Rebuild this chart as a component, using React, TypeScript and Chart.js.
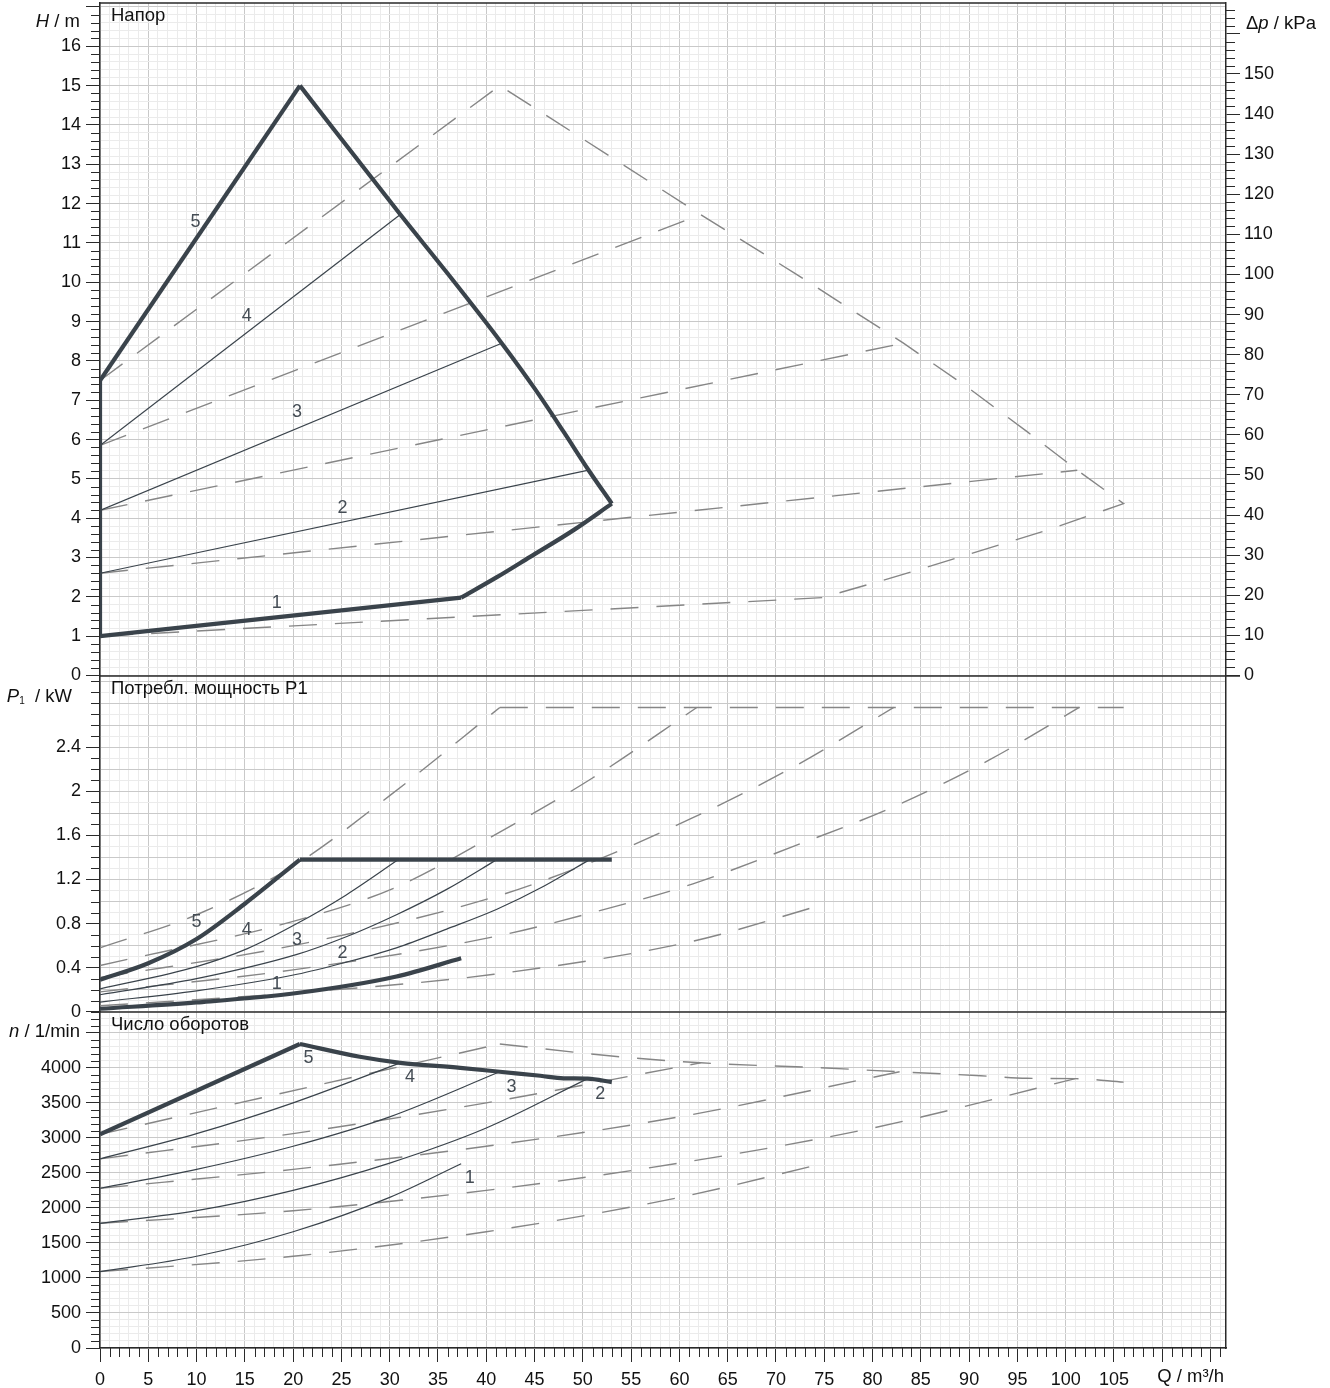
import React, { useEffect, useRef } from 'react';
import { Chart, registerables } from 'chart.js';

Chart.register(...registerables);

// ---------- axis ranges ----------
const Q_MAX = 116.6;
const H_MAX = 17.1;
const P_MAX = 3.05;
const N_MAX = 4800;
const KPA_PER_M = 9.80665;

// ---------- tick label sets ----------
const Q_LABELS = [0, 5, 10, 15, 20, 25, 30, 35, 40, 45, 50, 55, 60, 65, 70, 75, 80, 85, 90, 95, 100, 105];
const H_LABELS = [0, 1, 2, 3, 4, 5, 6, 7, 8, 9, 10, 11, 12, 13, 14, 15, 16];
const P_LABELS = [0, 0.4, 0.8, 1.2, 1.6, 2, 2.4];
const N_LABELS = [0, 500, 1000, 1500, 2000, 2500, 3000, 3500, 4000];
const DP_LABELS = [0, 10, 20, 30, 40, 50, 60, 70, 80, 90, 100, 110, 120, 130, 140, 150];

// ---------- head, single pump ----------
const H_C5_Q = [0, 20.7];
const H_C5_H = [7.5, 15.0];
const H_MAXLIM_Q = [20.7, 31.1, 36, 41.6, 45, 48, 50.6, 53.0];
const H_MAXLIM_H = [15.0, 11.72, 10.22, 8.45, 7.3, 6.2, 5.22, 4.37];
const H_MINLIM_Q = [37.4, 41.1, 44.5, 49.0, 53.0];
const H_MINLIM_H = [1.98, 2.5, 3.01, 3.69, 4.37];
const H_C1_Q = [0, 37.4];
const H_C1_H = [1.0, 1.98];
const H_AXIS_Q = [0, 0];
const H_AXIS_H = [1.0, 7.5];
const H_C4_Q = [0, 31.1];
const H_C4_H = [5.85, 11.72];
const H_C3_Q = [0, 41.6];
const H_C3_H = [4.2, 8.45];
const H_C2_Q = [0, 50.6];
const H_C2_H = [2.6, 5.22];

// ---------- head, twin operation (dashed) ----------
const HT_OUTER_Q = [0, 41.4, 62.2, 72, 83.2, 90, 96, 101.2, 106, 98, 89, 82.2, 74.8, 0];
const HT_OUTER_H = [7.5, 15.0, 11.72, 10.22, 8.45, 7.3, 6.2, 5.22, 4.37, 3.69, 3.01, 2.5, 1.98, 1.0];
const HT_C4_Q = [0, 62.2];
const HT_C4_H = [5.85, 11.72];
const HT_C3_Q = [0, 83.2];
const HT_C3_H = [4.2, 8.45];
const HT_C2_Q = [0, 101.2];
const HT_C2_H = [2.6, 5.22];

// ---------- power P1, single pump ----------
const P_C5_Q = [0, 5, 10, 15, 20.7];
const P_C5_P = [0.29, 0.44, 0.66, 0.98, 1.38];
const P_LIM_Q = [20.7, 53.0];
const P_LIM_P = [1.38, 1.38];
const P_C4_Q = [0, 10, 15.2, 20.4, 25.5, 30.9];
const P_C4_P = [0.208, 0.41, 0.57, 0.8, 1.06, 1.38];
const P_C3_Q = [0, 10, 20.4, 25.5, 30.7, 35.9, 41.1];
const P_C3_P = [0.154, 0.3, 0.52, 0.68, 0.88, 1.11, 1.38];
const P_C2_Q = [0, 10, 20.4, 25.5, 30.7, 35.9, 41.1, 46, 50.7];
const P_C2_P = [0.088, 0.19, 0.34, 0.45, 0.58, 0.75, 0.93, 1.14, 1.38];
const P_C1_Q = [0, 10, 20.4, 30.7, 37.4];
const P_C1_P = [0.027, 0.085, 0.17, 0.32, 0.485];

// ---------- power P1, twin (dashed) ----------
const PT_C5_Q = [0, 10, 20, 30, 41.4];
const PT_C5_P = [0.58, 0.88, 1.32, 1.96, 2.76];
const PT_LIM_Q = [41.4, 106];
const PT_LIM_P = [2.76, 2.76];
const PT_C4_Q = [0, 20, 30.4, 40.8, 51, 61.8];
const PT_C4_P = [0.42, 0.82, 1.12, 1.6, 2.12, 2.76];
const PT_C3_Q = [0, 20, 40.8, 51, 61.4, 71.8, 82.2];
const PT_C3_P = [0.31, 0.6, 1.04, 1.36, 1.76, 2.22, 2.76];
const PT_C2_Q = [0, 20, 40.8, 51, 61.4, 71.8, 82.2, 92, 101.4];
const PT_C2_P = [0.18, 0.38, 0.68, 0.9, 1.16, 1.5, 1.86, 2.28, 2.76];
const PT_C1_Q = [0, 20, 40.8, 61.4, 74.8];
const PT_C1_P = [0.054, 0.17, 0.34, 0.64, 0.97];

// ---------- speed n, single pump ----------
const N_C5_Q = [0, 20.7];
const N_C5_N = [3050, 4340];
const N_LIM_Q = [20.7, 26.9, 31.1, 37.3, 41.4, 45.6, 48, 50.5, 53];
const N_LIM_N = [4340, 4157, 4071, 4000, 3943, 3886, 3850, 3845, 3795];
const N_C4_Q = [0, 10, 20, 31.1];
const N_C4_N = [2700, 3060, 3500, 4071];
const N_C3_Q = [0, 10, 20, 30, 41.4];
const N_C3_N = [2280, 2550, 2880, 3300, 3943];
const N_C2_Q = [0, 10, 20, 30, 40, 50.5];
const N_C2_N = [1780, 1960, 2250, 2640, 3140, 3845];
const N_C1_Q = [0, 10, 20, 30, 37.4];
const N_C1_N = [1090, 1310, 1660, 2150, 2630];

// ---------- speed n, twin (dashed) ----------
const NT_C5_Q = [0, 41.4];
const NT_C5_N = [3050, 4340];
const NT_LIM_Q = [41.4, 53.8, 62.2, 74.6, 82.8, 91.2, 96, 101, 106];
const NT_LIM_N = [4340, 4157, 4071, 4000, 3943, 3886, 3850, 3845, 3795];
const NT_C4_Q = [0, 20, 40, 62.2];
const NT_C4_N = [2700, 3060, 3500, 4071];
const NT_C3_Q = [0, 20, 40, 60, 82.8];
const NT_C3_N = [2280, 2550, 2880, 3300, 3943];
const NT_C2_Q = [0, 20, 40, 60, 80, 101];
const NT_C2_N = [1780, 1960, 2250, 2640, 3140, 3845];
const NT_C1_Q = [0, 20, 40, 60, 74.8];
const NT_C1_N = [1090, 1310, 1660, 2150, 2630];

// ---------- curve number labels ----------
const CURVE_NAMES = ['1', '2', '3', '4', '5'];
const H_NAME_Q = [18.3, 25.1, 20.4, 15.2, 9.9];
const H_NAME_V = [1.83, 4.25, 6.7, 9.15, 11.54];
const P_NAME_Q = [18.3, 25.1, 20.4, 15.2, 10.0];
const P_NAME_V = [0.254, 0.534, 0.652, 0.743, 0.815];
const N_NAME_Q = [38.3, 51.8, 42.6, 32.1, 21.6];
const N_NAME_V = [2429, 3629, 3729, 3871, 4143];

// ---------- texts ----------
const PANEL_TITLES = ['Напор', 'Потребл. мощность P1', 'Число оборотов'];
const H_UNIT_AT = 16.62;
const P_UNIT_AT = 2.853;
const N_UNIT_AT = 4519;
const DP_UNIT_AT = 162.4;

// ---------- styling ----------
const FONT = "'Liberation Sans', Arial, sans-serif";
const DARK = '#3a434b';
const DASH = '#868686';
const GRID_MAJOR = '#c9c9c9';
const GRID_MINOR = '#ebebeb';
const TICK = '#2a2a2a';
const TEXT = '#111111';
const MAJOR_TICK = 14;
const MINOR_TICK = 9;
const TICK_FONT = 18;
const TEXT_FONT = 18.5;

const near = (a: number, b: number) => Math.abs(a - b) < 1e-6;
const isMult = (v: number, m: number) => near(v / m, Math.round(v / m));
const inList = (list: number[], v: number) => list.some((x) => near(x, v));

function pts(qs: number[], vs: number[]) {
  return qs.map((q, i) => ({ x: q, y: vs[i] }));
}

function line(axis: string, qs: number[], vs: number[], kind: 'thick' | 'thin' | 'dash', curved = false) {
  return {
    data: pts(qs, vs),
    xAxisID: 'x',
    yAxisID: axis,
    borderColor: kind === 'dash' ? DASH : DARK,
    borderWidth: kind === 'thick' ? 4.2 : kind === 'thin' ? 1.2 : 1.4,
    borderDash: kind === 'dash' ? [28, 18] : [],
    borderJoinStyle: 'miter',
    borderCapStyle: 'butt',
    pointRadius: 0,
    pointHoverRadius: 0,
    fill: false,
    tension: 0,
    cubicInterpolationMode: curved ? 'monotone' : 'default',
  };
}

const MAJOR: Record<string, (v: number) => boolean> = {
  x: (v) => isMult(v, 5),
  yH: (v) => isMult(v, 1),
  yP: (v) => inList(P_LABELS, v),
  yN: (v) => isMult(v, 500),
  yDp: (v) => isMult(v, 10),
};

function gridColorFor(majorStep: number) {
  return (c: any) => {
    const v = c.tick ? c.tick.value : 0;
    return isMult(v, majorStep) ? GRID_MAJOR : GRID_MINOR;
  };
}
function tickColorFor(id: string) {
  return (c: any) => {
    const v = c.tick ? c.tick.value : 0;
    return MAJOR[id](v) ? TICK : 'rgba(0,0,0,0)';
  };
}
function zeroPad(s: any) {
  s.paddingTop = 0;
  s.paddingBottom = 0;
  s.paddingLeft = 0;
  s.paddingRight = 0;
}

function leftAxis(id: string, max: number, step: number, labels: number[], majorGrid: number, stackWeight: number, weight: number, fmt: (v: number) => string) {
  return {
    type: 'linear',
    position: 'left',
    stack: 'L',
    stackWeight,
    weight,
    min: 0,
    max,
    afterFit: (s: any) => {
      s.width = 100;
      zeroPad(s);
    },
    ticks: {
      stepSize: step,
      includeBounds: false,
      autoSkip: false,
      padding: 5,
      color: TEXT,
      font: { family: FONT, size: TICK_FONT },
      callback: (v: any) => (inList(labels, Number(v)) ? fmt(Number(v)) : ''),
    },
    grid: {
      color: gridColorFor(majorGrid),
      lineWidth: 1,
      tickLength: MAJOR_TICK,
      tickColor: tickColorFor(id),
      tickWidth: 1,
    },
    border: { display: true, color: TICK, width: 1.5 },
  };
}

function rightDummy(weight: number) {
  return {
    type: 'linear',
    position: 'right',
    stack: 'R',
    stackWeight: 1,
    weight,
    min: 0,
    max: 1,
    afterFit: (s: any) => {
      s.width = 104;
      zeroPad(s);
    },
    ticks: { display: false },
    grid: { display: false, drawOnChartArea: false },
    border: { display: true, color: TICK, width: 1.5 },
  };
}

function fmtNum(v: number) {
  return String(Math.round(v * 10) / 10);
}

function drawRich(ctx: any, parts: any[], x: number, y: number, align: 'left' | 'right') {
  ctx.textBaseline = 'middle';
  ctx.textAlign = 'left';
  const fontOf = (p: any) => `${p.italic ? 'italic ' : ''}${p.size || TEXT_FONT}px ${FONT}`;
  const widths = parts.map((p) => {
    ctx.font = fontOf(p);
    return ctx.measureText(p.t).width;
  });
  const total = widths.reduce((a, b) => a + b, 0);
  let cx = align === 'right' ? x - total : x;
  parts.forEach((p, i) => {
    ctx.font = fontOf(p);
    ctx.fillText(p.t, cx, y + (p.dy || 0));
    cx += widths[i];
  });
}

const overlay = {
  id: 'overlay',
  afterDraw(chart: any) {
    const ctx = chart.ctx;
    const { left, right, top, bottom } = chart.chartArea;
    const sx = chart.scales.x;
    const sH = chart.scales.yH;
    const sP = chart.scales.yP;
    const sN = chart.scales.yN;
    const sD = chart.scales.yDp;
    ctx.save();

    // minor tick marks
    ctx.strokeStyle = TICK;
    ctx.lineWidth = 1;
    ctx.beginPath();
    const leftScales: [string, any][] = [['yH', sH], ['yP', sP], ['yN', sN]];
    for (const [id, s] of leftScales) {
      for (const t of s.ticks) {
        if (MAJOR[id](t.value)) continue;
        const y = Math.round(s.getPixelForValue(t.value)) + 0.5;
        ctx.moveTo(left - MINOR_TICK, y);
        ctx.lineTo(left, y);
      }
    }
    for (const t of sD.ticks) {
      if (MAJOR.yDp(t.value)) continue;
      const y = Math.round(sD.getPixelForValue(t.value)) + 0.5;
      ctx.moveTo(right, y);
      ctx.lineTo(right + MINOR_TICK, y);
    }
    for (const t of sx.ticks) {
      if (MAJOR.x(t.value)) continue;
      const x = Math.round(sx.getPixelForValue(t.value)) + 0.5;
      ctx.moveTo(x, bottom);
      ctx.lineTo(x, bottom + MINOR_TICK);
    }
    ctx.stroke();

    // panel separators + top border
    ctx.strokeStyle = TICK;
    ctx.lineWidth = 1.5;
    ctx.beginPath();
    const ySep1 = Math.round(sH.getPixelForValue(0));
    const ySep2 = Math.round(sP.getPixelForValue(0));
    ctx.moveTo(left, ySep1);
    ctx.lineTo(right + MAJOR_TICK, ySep1);
    ctx.moveTo(left, ySep2);
    ctx.lineTo(right, ySep2);
    ctx.moveTo(left, top);
    ctx.lineTo(right, top);
    ctx.stroke();

    // panel titles
    ctx.fillStyle = TEXT;
    ctx.font = `${TEXT_FONT}px ${FONT}`;
    ctx.textAlign = 'left';
    ctx.textBaseline = 'middle';
    const panelTops = [sH.top, sP.top, sN.top];
    PANEL_TITLES.forEach((t, i) => ctx.fillText(t, left + 11, panelTops[i] + 13));

    // axis unit labels
    drawRich(ctx, [{ t: 'H', italic: true }, { t: ' / m' }], left - 20, sH.getPixelForValue(H_UNIT_AT), 'right');
    drawRich(
      ctx,
      [{ t: 'P', italic: true }, { t: '1', size: 10, dy: 4 }, { t: '  / kW' }],
      left - 28,
      sP.getPixelForValue(P_UNIT_AT),
      'right'
    );
    drawRich(ctx, [{ t: 'n', italic: true }, { t: ' / 1/min' }], left - 20, sN.getPixelForValue(N_UNIT_AT), 'right');
    drawRich(ctx, [{ t: 'Δ' }, { t: 'p', italic: true }, { t: ' / kPa' }], right + 20, sD.getPixelForValue(DP_UNIT_AT), 'left');
    drawRich(ctx, [{ t: 'Q / m³/h' }], right - 2, bottom + 29, 'right');

    // curve numbers
    ctx.fillStyle = '#454d55';
    ctx.font = `${TICK_FONT}px ${FONT}`;
    ctx.textAlign = 'center';
    ctx.textBaseline = 'middle';
    const sets: [any, number[], number[]][] = [
      [sH, H_NAME_Q, H_NAME_V],
      [sP, P_NAME_Q, P_NAME_V],
      [sN, N_NAME_Q, N_NAME_V],
    ];
    for (const [s, qs, vs] of sets) {
      CURVE_NAMES.forEach((name, i) => {
        ctx.fillText(name, sx.getPixelForValue(qs[i]), s.getPixelForValue(vs[i]));
      });
    }
    ctx.restore();
  },
};

export default function App() {
  const ref = useRef<HTMLCanvasElement>(null);
  useEffect(() => {
    document.body.style.margin = '0';
    const datasets: any[] = [
      // solid (single pump)
      line('yH', H_C5_Q, H_C5_H, 'thick'),
      line('yH', H_MAXLIM_Q, H_MAXLIM_H, 'thick', true),
      line('yH', H_MINLIM_Q, H_MINLIM_H, 'thick', true),
      line('yH', H_C1_Q, H_C1_H, 'thick'),
      line('yH', H_AXIS_Q, H_AXIS_H, 'thick'),
      line('yH', H_C4_Q, H_C4_H, 'thin'),
      line('yH', H_C3_Q, H_C3_H, 'thin'),
      line('yH', H_C2_Q, H_C2_H, 'thin'),
      line('yP', P_C5_Q, P_C5_P, 'thick', true),
      line('yP', P_LIM_Q, P_LIM_P, 'thick'),
      line('yP', P_C4_Q, P_C4_P, 'thin', true),
      line('yP', P_C3_Q, P_C3_P, 'thin', true),
      line('yP', P_C2_Q, P_C2_P, 'thin', true),
      line('yP', P_C1_Q, P_C1_P, 'thick', true),
      line('yN', N_C5_Q, N_C5_N, 'thick'),
      line('yN', N_LIM_Q, N_LIM_N, 'thick', true),
      line('yN', N_C4_Q, N_C4_N, 'thin', true),
      line('yN', N_C3_Q, N_C3_N, 'thin', true),
      line('yN', N_C2_Q, N_C2_N, 'thin', true),
      line('yN', N_C1_Q, N_C1_N, 'thin', true),
      // dashed (twin operation)
      line('yH', HT_OUTER_Q, HT_OUTER_H, 'dash'),
      line('yH', HT_C4_Q, HT_C4_H, 'dash'),
      line('yH', HT_C3_Q, HT_C3_H, 'dash'),
      line('yH', HT_C2_Q, HT_C2_H, 'dash'),
      line('yP', PT_C5_Q, PT_C5_P, 'dash', true),
      line('yP', PT_LIM_Q, PT_LIM_P, 'dash'),
      line('yP', PT_C4_Q, PT_C4_P, 'dash', true),
      line('yP', PT_C3_Q, PT_C3_P, 'dash', true),
      line('yP', PT_C2_Q, PT_C2_P, 'dash', true),
      line('yP', PT_C1_Q, PT_C1_P, 'dash', true),
      line('yN', NT_C5_Q, NT_C5_N, 'dash'),
      line('yN', NT_LIM_Q, NT_LIM_N, 'dash', true),
      line('yN', NT_C4_Q, NT_C4_N, 'dash', true),
      line('yN', NT_C3_Q, NT_C3_N, 'dash', true),
      line('yN', NT_C2_Q, NT_C2_N, 'dash', true),
      line('yN', NT_C1_Q, NT_C1_N, 'dash', true),
    ];

    const chart = new Chart(ref.current as HTMLCanvasElement, {
      type: 'line',
      data: { datasets },
      plugins: [overlay],
      options: {
        animation: false,
        responsive: false,
        devicePixelRatio: 1,
        events: [],
        layout: { padding: { top: 3, left: 0, right: 0, bottom: 0 } },
        plugins: { legend: { display: false }, tooltip: { enabled: false } },
        scales: {
          x: {
            type: 'linear',
            position: 'bottom',
            min: 0,
            max: Q_MAX,
            afterFit: (s: any) => {
              s.height = 40;
              zeroPad(s);
            },
            ticks: {
              stepSize: 1,
              includeBounds: false,
              autoSkip: false,
              maxRotation: 0,
              minRotation: 0,
              padding: 7,
              color: TEXT,
              font: { family: FONT, size: TICK_FONT },
              callback: (v: any) => (inList(Q_LABELS, Number(v)) ? String(Math.round(Number(v))) : ''),
            },
            grid: {
              color: gridColorFor(5),
              lineWidth: 1,
              tickLength: MAJOR_TICK,
              tickColor: tickColorFor('x'),
              tickWidth: 1,
            },
            border: { display: true, color: TICK, width: 1.5 },
          },
          yH: leftAxis('yH', H_MAX, 0.2, H_LABELS, 1, 2, 3, (v) => String(Math.round(v))),
          yP: leftAxis('yP', P_MAX, 0.1, P_LABELS, 0.2, 1, 2, fmtNum),
          yN: leftAxis('yN', N_MAX, 100, N_LABELS, 500, 1, 1, (v) => String(Math.round(v))),
          yDp: {
            type: 'linear',
            position: 'right',
            stack: 'R',
            stackWeight: 2,
            weight: 0,
            min: 0,
            max: H_MAX * KPA_PER_M,
            afterFit: (s: any) => {
              s.width = 104;
              zeroPad(s);
            },
            ticks: {
              stepSize: 2,
              includeBounds: false,
              autoSkip: false,
              padding: 4,
              color: TEXT,
              font: { family: FONT, size: TICK_FONT },
              callback: (v: any) => (inList(DP_LABELS, Number(v)) ? String(Math.round(Number(v))) : ''),
            },
            grid: {
              drawOnChartArea: false,
              tickLength: MAJOR_TICK,
              tickColor: tickColorFor('yDp'),
              tickWidth: 1,
            },
            border: { display: true, color: TICK, width: 1.5 },
          },
          yR2: rightDummy(1),
          yR3: rightDummy(2),
        },
      } as any,
    } as any);
    return () => chart.destroy();
  }, []);

  return (
    <div style={{ width: 1330, height: 1388, position: 'relative', background: '#fff' }}>
      <canvas ref={ref} width={1330} height={1388} style={{ display: 'block', width: 1330, height: 1388 }} />
    </div>
  );
}
